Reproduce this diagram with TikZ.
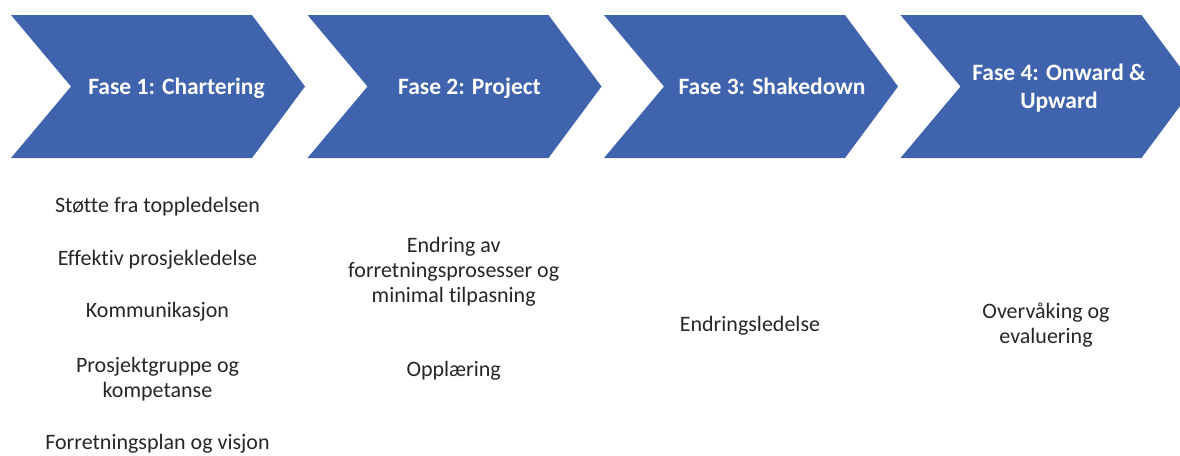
\documentclass[tikz,border=0pt]{standalone}
\usepackage{fontspec}
\setmainfont{Carlito}[Ligatures=NoCommon]
\definecolor{phaseblue}{RGB}{63,100,173}
\tikzset{
  phasebox/.style={fill=phaseblue, draw=none},
  phasetitle/.style={font=\fontsize{23.5}{28}\selectfont\bfseries, text=white,
    align=center, inner sep=0pt, anchor=base},
  factor/.style={font=\fontsize{22}{25}\selectfont, text=black!85,
    align=center, inner sep=0pt, anchor=base}
}
\begin{document}
\begin{tikzpicture}[x=1pt, y=-1pt]
  \useasboundingbox (0,0) rectangle (1180,455);
  \clip (0,0) rectangle (1180,455);

  % four chevrons: left edge, notch depth 60, tip depth 53
  \foreach \lx in {11, 307.5, 604, 900.5} {
    \path[phasebox] (\lx,15) -- ({\lx+241},15) -- ({\lx+294},86.5)
      -- ({\lx+241},158) -- (\lx,158) -- ({\lx+60},86.5) -- cycle;
  }

  % phase titles (base anchor sits on the last line)
  \node[phasetitle] (t1) at (176.5,94) {Fase 1: Chartering};
  \node[phasetitle] (t2) at (469.5,94) {Fase 2: Project};
  \node[phasetitle] (t3) at (772,94) {Fase 3: Shakedown};
  \node[phasetitle] (t4) at (1059,108) {Fase 4: Onward \&\\Upward};

  % success factors per phase
  \node[factor] (a1) at (157.5,212.3) {Støtte fra toppledelsen};
  \node[factor] (a2) at (157.5,265) {Effektiv prosjekledelse};
  \node[factor] (a3) at (157.5,317.3) {Kommunikasjon};
  \node[factor] (a4) at (157.5,397.3) {Prosjektgruppe og\\kompetanse};
  \node[factor] (a5) at (157.5,449.3) {Forretningsplan og visjon};

  \node[factor] (b1) at (453.7,302.7) {Endring av\\forretningsprosesser og\\minimal tilpasning};
  \node[factor] (b2) at (453.7,376.7) {Opplæring};

  \node[factor] (c1) at (750,331.7) {Endringsledelse};

  \node[factor] (d1) at (1046,343.3) {Overvåking og\\evaluering};
\end{tikzpicture}
\end{document}
